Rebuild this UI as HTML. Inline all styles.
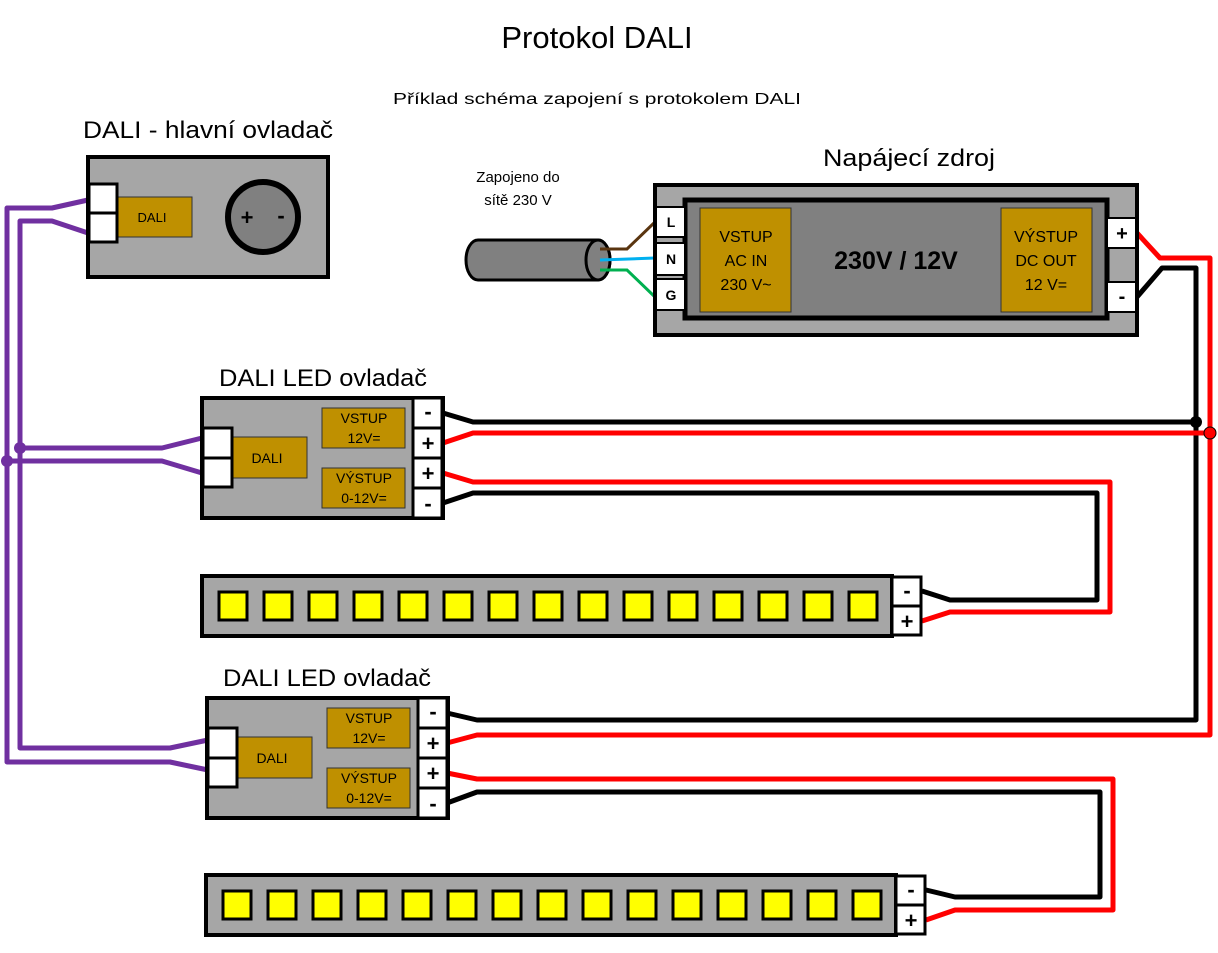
<!DOCTYPE html>
<html><head><meta charset="utf-8"><style>body{margin:0;background:#fff}svg{display:block}text{font-family:"Liberation Sans",sans-serif}</style></head><body>
<svg width="1218" height="953" viewBox="0 0 1218 953" xmlns="http://www.w3.org/2000/svg">
<text x="597" y="48" font-size="31" text-anchor="middle">Protokol DALI</text>
<text x="597" y="104" font-size="16" text-anchor="middle" textLength="408" lengthAdjust="spacingAndGlyphs">Příklad schéma zapojení s protokolem DALI</text>
<text x="208" y="138" font-size="24" text-anchor="middle" textLength="250" lengthAdjust="spacingAndGlyphs">DALI - hlavní ovladač</text>
<text x="909" y="166" font-size="24" text-anchor="middle" textLength="172" lengthAdjust="spacingAndGlyphs">Napájecí zdroj</text>
<text x="518" y="182" font-size="15" text-anchor="middle">Zapojeno do</text>
<text x="518" y="205" font-size="15" text-anchor="middle">sítě 230 V</text>
<text x="323" y="386" font-size="24" text-anchor="middle" textLength="208" lengthAdjust="spacingAndGlyphs">DALI LED ovladač</text>
<text x="327" y="686" font-size="24" text-anchor="middle" textLength="208" lengthAdjust="spacingAndGlyphs">DALI LED ovladač</text>

<g fill="none" stroke="#7030a0" stroke-width="5" stroke-linejoin="round">
<polyline points="88,200 52,208 7,208 7,762 170,762 208,770"/>
<polyline points="88,233 52,221 20,221 20,748 170,748 208,740"/>
<polyline points="20,448 162,448 202,438"/>
<polyline points="7,461 162,461 202,473"/>
</g>
<circle cx="20" cy="448" r="6" fill="#7030a0"/><circle cx="7" cy="461" r="6" fill="#7030a0"/>

<g fill="none" stroke-width="5" stroke-linejoin="round">
<polyline stroke="#f00" points="1137,233 1160,258 1210,258 1210,735 477,735 447,743"/>
<polyline stroke="#000" points="1137,297 1162,268 1196,268 1196,720 477,720 447,713"/>
<polyline stroke="#000" points="443,413 473,422 1196,422"/>
<polyline stroke="#f00" points="443,443 473,433 1210,433"/>
<polyline stroke="#f00" points="443,473 473,482 1110,482 1110,612 950,612 922,621"/>
<polyline stroke="#000" points="443,503 473,493 1097,493 1097,600 950,600 922,591"/>
<polyline stroke="#f00" points="447,773 477,779 1113,779 1113,910 955,910 926,920"/>
<polyline stroke="#000" points="447,803 477,792 1100,792 1100,897 955,897 926,890"/>
</g>
<circle cx="1196" cy="422" r="6" fill="#000"/>
<circle cx="1210" cy="433" r="6" fill="#f00" stroke="#000" stroke-width="1"/>

<rect x="88" y="157" width="240" height="120" fill="#a6a6a6" stroke="#000" stroke-width="4"/>
<rect x="117" y="197" width="75" height="40" fill="#bf9000" stroke="#333" stroke-width="1"/>
<text x="152" y="222" font-size="13" text-anchor="middle">DALI</text>
<rect x="89" y="184" width="28" height="29" fill="#fff" stroke="#000" stroke-width="3"/>
<rect x="89" y="213" width="28" height="29" fill="#fff" stroke="#000" stroke-width="3"/>
<circle cx="263" cy="217" r="35" fill="#808080" stroke="#000" stroke-width="6"/>
<text x="247" y="225" font-size="22" font-weight="bold" text-anchor="middle">+</text>
<text x="281" y="223" font-size="22" font-weight="bold" text-anchor="middle">-</text>

<g stroke="#000" stroke-width="3">
<path d="M478,240 L598,240 A12,20 0 0 1 598,280 L478,280 A12,20 0 0 1 478,240 Z" fill="#808080"/>
<ellipse cx="598" cy="260" rx="12" ry="20" fill="#808080"/>
</g>
<g fill="none" stroke-width="3">
<polyline stroke="#5a3510" points="600,249 627,249 655,222"/>
<polyline stroke="#00b0f0" points="600,260 655,258"/>
<polyline stroke="#00b050" points="600,270 627,270 655,297"/>
</g>

<rect x="655" y="185" width="482" height="150" fill="#a6a6a6" stroke="#000" stroke-width="4"/>
<rect x="685" y="200" width="422" height="118" fill="#808080" stroke="#000" stroke-width="5"/>
<rect x="700" y="208" width="91" height="104" fill="#bf9000" stroke="#333" stroke-width="1"/>
<rect x="1001" y="208" width="91" height="104" fill="#bf9000" stroke="#333" stroke-width="1"/>
<g font-size="16" text-anchor="middle">
<text x="746" y="242">VSTUP</text><text x="746" y="266">AC IN</text><text x="746" y="290">230 V~</text>
<text x="1046" y="242">VÝSTUP</text><text x="1046" y="266">DC OUT</text><text x="1046" y="290">12 V=</text>
</g>
<text x="896" y="269" font-size="25" font-weight="bold" text-anchor="middle">230V / 12V</text>
<g fill="#fff" stroke="#000" stroke-width="2">
<rect x="656" y="207" width="29" height="30"/><rect x="656" y="243" width="29" height="32"/><rect x="656" y="279" width="29" height="31"/>
<rect x="1107" y="218" width="29" height="30"/><rect x="1107" y="282" width="29" height="30"/>
</g>
<g font-size="14" font-weight="bold" text-anchor="middle">
<text x="671" y="227">L</text><text x="671" y="264">N</text><text x="671" y="300">G</text>
<text x="1122" y="240" font-size="20">+</text><text x="1122" y="303" font-size="20">-</text>
</g>

<g id="c1">
<rect x="202" y="398" width="241" height="120" fill="#a6a6a6" stroke="#000" stroke-width="4"/>
<rect x="232" y="437" width="75" height="41" fill="#bf9000" stroke="#333" stroke-width="1"/>
<text x="267" y="463" font-size="14" text-anchor="middle">DALI</text>
<rect x="203" y="428" width="29" height="30" fill="#fff" stroke="#000" stroke-width="3"/>
<rect x="203" y="458" width="29" height="29" fill="#fff" stroke="#000" stroke-width="3"/>
<rect x="322" y="408" width="83" height="40" fill="#bf9000" stroke="#333" stroke-width="1"/>
<rect x="322" y="468" width="83" height="40" fill="#bf9000" stroke="#333" stroke-width="1"/>
<g font-size="14" text-anchor="middle"><text x="364" y="423">VSTUP</text><text x="364" y="443">12V=</text><text x="364" y="483">VÝSTUP</text><text x="364" y="503">0-12V=</text></g>
<g fill="#fff" stroke="#000" stroke-width="3"><rect x="413" y="398" width="29" height="30"/><rect x="413" y="428" width="29" height="30"/><rect x="413" y="458" width="29" height="30"/><rect x="413" y="488" width="29" height="30"/></g>
<g font-size="22" font-weight="bold" text-anchor="middle"><text x="428" y="419">-</text><text x="428" y="451">+</text><text x="428" y="481">+</text><text x="428" y="511">-</text></g>
</g>
<use href="#c1" transform="translate(5,300)"/>

<g id="s1">
<rect x="202" y="576" width="690" height="60" fill="#a6a6a6" stroke="#000" stroke-width="4"/>
<g fill="#ffff00" stroke="#000" stroke-width="3">
<rect x="219" y="592" width="28" height="28"/><rect x="264" y="592" width="28" height="28"/><rect x="309" y="592" width="28" height="28"/><rect x="354" y="592" width="28" height="28"/><rect x="399" y="592" width="28" height="28"/><rect x="444" y="592" width="28" height="28"/><rect x="489" y="592" width="28" height="28"/><rect x="534" y="592" width="28" height="28"/><rect x="579" y="592" width="28" height="28"/><rect x="624" y="592" width="28" height="28"/><rect x="669" y="592" width="28" height="28"/><rect x="714" y="592" width="28" height="28"/><rect x="759" y="592" width="28" height="28"/><rect x="804" y="592" width="28" height="28"/><rect x="849" y="592" width="28" height="28"/>
</g>
<g fill="#fff" stroke="#000" stroke-width="3"><rect x="892" y="577" width="29" height="29"/><rect x="892" y="606" width="29" height="29"/></g>
<g font-size="22" font-weight="bold" text-anchor="middle"><text x="907" y="598">-</text><text x="907" y="629">+</text></g>
</g>
<use href="#s1" transform="translate(4,299)"/>
</svg>
</body></html>
